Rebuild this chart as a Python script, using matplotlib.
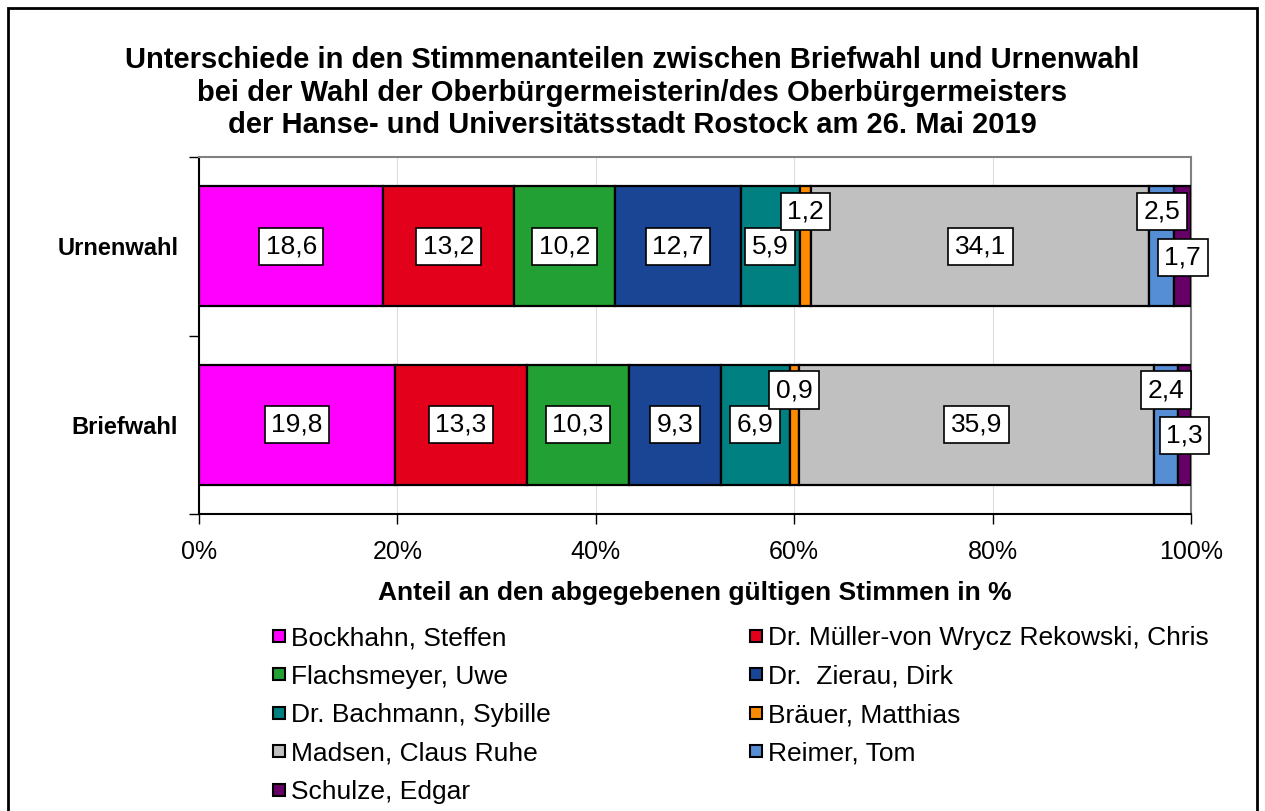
import matplotlib.pyplot as plt
from matplotlib.patches import Rectangle
from matplotlib.lines import Line2D
import numpy as np

plt.rcParams['font.family'] = ['Liberation Sans', 'DejaVu Sans']

# data
rows = ["Briefwahl", "Urnenwahl"]
candidates = ["Bockhahn, Steffen", "Dr. Müller-von Wrycz Rekowski, Chris",
              "Flachsmeyer, Uwe", "Dr.  Zierau, Dirk",
              "Dr. Bachmann, Sybille", "Bräuer, Matthias",
              "Madsen, Claus Ruhe", "Reimer, Tom", "Schulze, Edgar"]
briefwahl = [19.8, 13.3, 10.3, 9.3, 6.9, 0.9, 35.9, 2.4, 1.3]
urnenwahl = [18.6, 13.2, 10.2, 12.7, 5.9, 1.2, 34.1, 2.5, 1.7]
colors = ["#FF00FF", "#E3001B", "#22A033", "#1A4594", "#008080",
          "#FF8C00", "#C0C0C0", "#558ED5", "#660066"]
# label offsets (points) for the narrow segments
label_dy = [0, 0, 0, 0, 0, 25, 0, 25, -8]

fig = plt.figure(figsize=(12.65, 8.11), dpi=100)
ax = fig.add_axes([0.1573, 0.3662, 0.7842, 0.4402])

data = np.array([briefwahl, urnenwahl])
shares = data / data.sum(axis=1, keepdims=True) * 100
left = np.zeros(2)
for i, name in enumerate(candidates):
    ax.barh([0, 1], shares[:, i], left=left, height=0.67, color=colors[i],
            edgecolor="black", linewidth=1.6, label=name, zorder=3)
    for r in range(2):
        xc = left[r] + shares[r, i] / 2
        ax.annotate(f"{data[r, i]:.1f}".replace(".", ","), (xc, r),
                    xytext=(0, label_dy[i]), textcoords="offset points",
                    ha="center", va="center", fontsize=19, zorder=5,
                    bbox=dict(boxstyle="square,pad=0.25", fc="white", ec="black", lw=1.2))
    left += shares[:, i]

ax.set_xlim(0, 100)
ax.set_ylim(-0.5, 1.5)
ax.set_xticks(range(0, 101, 20))
ax.set_xticklabels([f"{v}%" for v in range(0, 101, 20)], fontsize=18)
ax.tick_params(axis="x", length=7, width=1, pad=12)
ax.set_yticks([0, 1])
ax.set_yticklabels(rows, fontsize=17, fontweight="bold")
ax.tick_params(axis="y", which="major", length=0, pad=15)
ax.set_yticks([-0.5, 0.5, 1.5], minor=True)
ax.tick_params(axis="y", which="minor", length=7, width=1)
ax.grid(axis="x", color="#DDDDDD", linewidth=0.8, zorder=0)
ax.set_axisbelow(True)
for s in ["top", "right"]:
    ax.spines[s].set_color("#808080")
    ax.spines[s].set_linewidth(1.5)
for s in ["left", "bottom"]:
    ax.spines[s].set_color("black")
    ax.spines[s].set_linewidth(1.5)

ax.set_xlabel("Anteil an den abgegebenen gültigen Stimmen in %", fontsize=19,
              fontweight="bold", labelpad=12)

fig.text(0.5, 0.943, "Unterschiede in den Stimmenanteilen zwischen Briefwahl und Urnenwahl\n"
         "bei der Wahl der Oberbürgermeisterin/des Oberbürgermeisters\n"
         "der Hanse- und Universitätsstadt Rostock am 26. Mai 2019",
         ha="center", va="top", fontsize=21, fontweight="bold", linespacing=1.2)

# legend in row order
handles = [Line2D([], [], marker="s", linestyle="none", markersize=9,
                  markerfacecolor=c, markeredgecolor="black", markeredgewidth=1.5)
           for c in colors]
order = [0, 2, 4, 6, 8, 1, 3, 5, 7]
fig.legend([handles[i] for i in order], [candidates[i] for i in order],
           ncol=2, loc="upper left", bbox_to_anchor=(0.212, 0.228), frameon=False,
           borderpad=0, borderaxespad=0,
           fontsize=19, handletextpad=0.05, handlelength=0.8, columnspacing=7.4,
           labelspacing=0.55)

fig.patches.append(Rectangle((0.0065, -0.01), 0.987, 1.0, transform=fig.transFigure,
                             fill=False, edgecolor="black", linewidth=2))

fig.savefig("out.png", dpi=100)
